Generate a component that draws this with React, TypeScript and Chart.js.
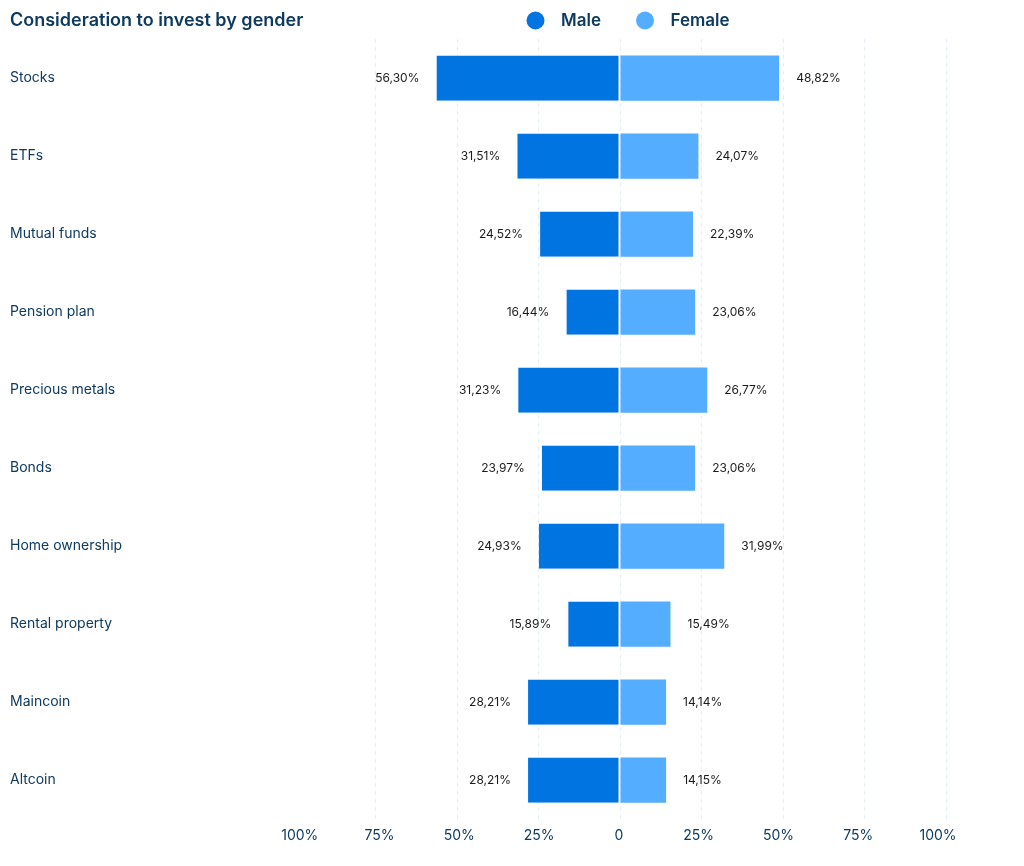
import React, { useEffect, useRef } from "react";
import { Chart, registerables } from "chart.js";

Chart.register(...registerables);

const TITLE = "Consideration to invest by gender";
const categories = [
  "Stocks",
  "ETFs",
  "Mutual funds",
  "Pension plan",
  "Precious metals",
  "Bonds",
  "Home ownership",
  "Rental property",
  "Maincoin",
  "Altcoin",
];
const maleValues = [56.3, 31.51, 24.52, 16.44, 31.23, 23.97, 24.93, 15.89, 28.21, 28.21];
const femaleValues = [48.82, 24.07, 22.39, 23.06, 26.77, 23.06, 31.99, 15.49, 14.14, 14.15];
const seriesNames = ["Male", "Female"];
const xTickValues = [-100, -75, -50, -25, 0, 25, 50, 75, 100];

const NAVY = "#0e3a60";
const MALE_COLOR = "#0074e0";
const FEMALE_COLOR = "#55adff";
const GRID_COLOR = "#e3edf8";
const FONT = "Inter, 'Noto Sans', sans-serif";

const fmt = (v: number) => v.toFixed(2).replace(".", ",") + "%";

const overlayPlugin = {
  id: "overlay",
  afterDatasetsDraw(chart: any) {
    const ctx = chart.ctx;
    ctx.save();
    ctx.font = `400 12px ${FONT}`;
    ctx.fillStyle = "#1b1b1b";
    ctx.textBaseline = "middle";
    chart.data.datasets.forEach((ds: any, di: number) => {
      const meta = chart.getDatasetMeta(di);
      meta.data.forEach((bar: any, i: number) => {
        const v = Math.abs(ds.data[i]);
        if (di === 0) {
          ctx.textAlign = "right";
          ctx.fillText(fmt(v), bar.x - 17, bar.y);
        } else {
          ctx.textAlign = "left";
          ctx.fillText(fmt(v), bar.x + 17, bar.y);
        }
      });
    });
    ctx.restore();
  },
  afterDraw(chart: any) {
    const ctx = chart.ctx;
    ctx.save();
    ctx.font = `600 18px ${FONT}`;
    ctx.fillStyle = NAVY;
    ctx.textAlign = "left";
    ctx.textBaseline = "middle";
    ctx.fillText(TITLE, 10, 21);
    const items = [
      { label: seriesNames[0], color: MALE_COLOR, cx: 535.5 },
      { label: seriesNames[1], color: FEMALE_COLOR, cx: 645 },
    ];
    items.forEach((it) => {
      ctx.beginPath();
      ctx.fillStyle = it.color;
      ctx.arc(it.cx, 20.5, 9, 0, Math.PI * 2);
      ctx.fill();
      ctx.font = `600 17px ${FONT}`;
      ctx.fillStyle = NAVY;
      ctx.textAlign = "left";
      ctx.fillText(it.label, it.cx + 25.5, 21);
    });
    ctx.restore();
  },
};

function App() {
  const ref = useRef<HTMLCanvasElement | null>(null);

  useEffect(() => {
    document.body.style.margin = "0";
    if (!ref.current) return;
    const chart = new Chart(ref.current, {
      type: "bar",
      data: {
        labels: categories,
        datasets: [
          {
            label: seriesNames[0],
            data: maleValues.map((v) => -v),
            backgroundColor: MALE_COLOR,
            borderColor: "#ffffff",
            borderWidth: { right: 1, left: 0, top: 0, bottom: 0 } as any,
            borderSkipped: false,
            categoryPercentage: 1,
            barPercentage: 0.58,
          },
          {
            label: seriesNames[1],
            data: femaleValues,
            backgroundColor: FEMALE_COLOR,
            borderWidth: 0,
            categoryPercentage: 1,
            barPercentage: 0.58,
          },
        ],
      },
      options: {
        indexAxis: "y",
        responsive: false,
        animation: false,
        maintainAspectRatio: false,
        layout: { padding: { top: 39, bottom: 14, left: 10, right: 78 } },
        plugins: {
          legend: { display: false },
          title: { display: false },
          tooltip: { enabled: false },
        },
        scales: {
          x: {
            type: "linear",
            stacked: true,
            min: -100,
            max: 100,
            afterBuildTicks: (scale: any) => {
              scale.ticks = xTickValues.map((v) => ({ value: v }));
            },
            grid: {
              color: (c: any) => (c.tick && c.tick.value === -100 ? "rgba(0,0,0,0)" : GRID_COLOR),
              drawTicks: false,
              lineWidth: 1,
            },
            border: { display: false, dash: [4, 4] },
            ticks: { display: false },
          },
          x2: {
            type: "linear",
            position: "bottom",
            min: -101.8,
            max: 102.5,
            afterBuildTicks: (scale: any) => {
              scale.ticks = xTickValues.map((v) => ({ value: v }));
            },
            grid: { display: false, drawTicks: false },
            border: { display: false },
            ticks: {
              padding: 8,
              color: NAVY,
              font: { family: FONT, size: 14, weight: 400 },
              callback: (v: any) => (Number(v) === 0 ? "0" : Math.abs(Number(v)) + "%"),
              maxRotation: 0,
              autoSkip: false,
            },
          },
          y: {
            stacked: true,
            grid: { display: false, drawTicks: false },
            border: { display: false },
            afterFit: (scale: any) => {
              scale.width = 284;
            },
            ticks: {
              crossAlign: "far",
              padding: 0,
              color: NAVY,
              font: { family: FONT, size: 14, weight: 400 },
            },
          },
        },
      },
      plugins: [overlayPlugin],
    } as any);
    return () => chart.destroy();
  }, []);

  return (
    <div style={{ width: 1024, height: 866 }}>
      <canvas ref={ref} width={1024} height={866} />
    </div>
  );
}

export default App;
